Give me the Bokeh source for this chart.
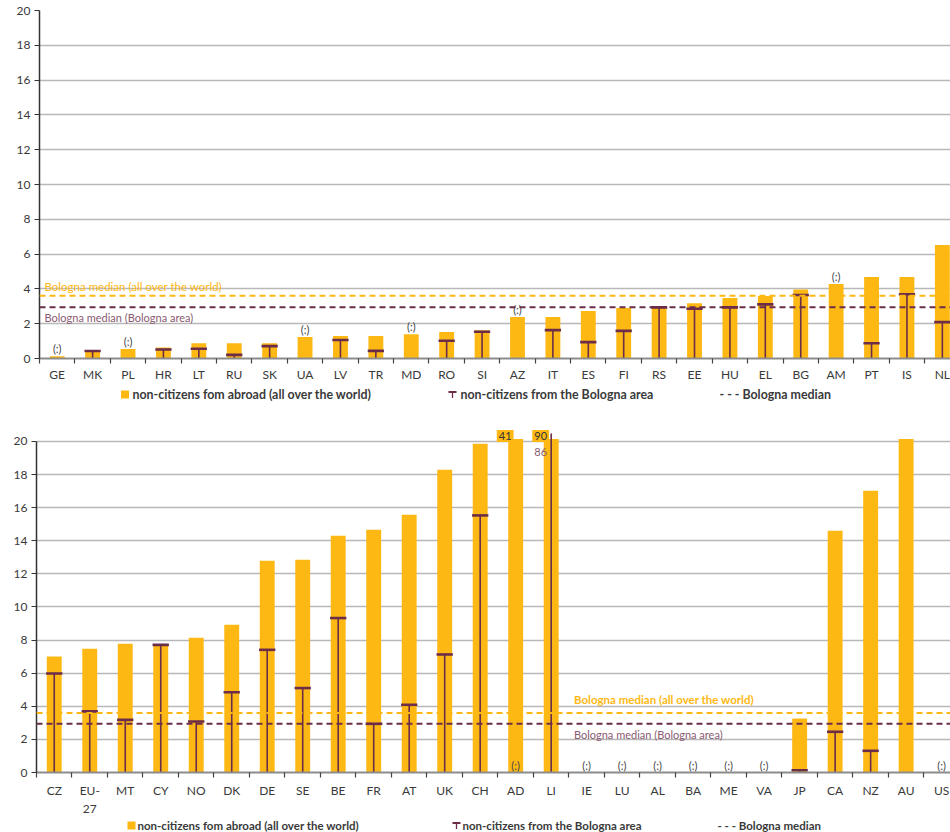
from bokeh.plotting import figure
from bokeh.models import FixedTicker, Span, Label
from bokeh.layouts import column
from bokeh.embed import file_html
from bokeh.resources import INLINE
from bokeh.core.properties import value

# ---------------- data ----------------
top_countries = ["GE", "MK", "PL", "HR", "LT", "RU", "SK", "UA", "LV", "TR", "MD", "RO", "SI",
                 "AZ", "IT", "ES", "FI", "RS", "EE", "HU", "EL", "BG", "AM", "PT", "IS", "NL"]
top_world = [0.13, 0.45, 0.54, 0.63, 0.88, 0.88, 0.88, 1.23, 1.29, 1.29, 1.40, 1.52, 1.63,
             2.38, 2.38, 2.73, 2.90, 2.94, 3.17, 3.48, 3.59, 3.96, 4.28, 4.69, 4.69, 6.53]
top_bologna = [None, 0.43, None, 0.52, 0.56, 0.21, 0.71, None, 1.06, 0.44, None, 1.02, 1.54,
               None, 1.63, 0.94, 1.59, 2.94, 2.86, 2.94, 3.11, 3.65, None, 0.88, 3.69, 2.09]
top_na = ["GE", "PL", "UA", "MD", "AZ", "AM"]

bot_countries = ["CZ", "EU-\n27", "MT", "CY", "NO", "DK", "DE", "SE", "BE", "FR", "AT", "UK", "CH",
                 "AD", "LI", "IE", "LU", "AL", "BA", "ME", "VA", "JP", "CA", "NZ", "AU", "US"]
bot_world = [7.00, 7.47, 7.77, 7.75, 8.14, 8.92, 12.79, 12.85, 14.30, 14.66, 15.57, 18.29, 19.86,
             41, 90, None, None, None, None, None, None, 3.26, 14.60, 17.02, 20.2, None]
bot_bologna = [5.98, 3.69, 3.18, 7.71, 3.08, 4.85, 7.41, 5.10, 9.33, 2.94, 4.09, 7.13, 15.53,
               None, 86, None, None, None, None, None, None, 0.14, 2.46, 1.31, None, None]
bot_na = ["AD", "IE", "LU", "AL", "BA", "ME", "VA", "US"]
bot_offscale = {"AD": ("41", None), "LI": ("90", "86")}

median_world = 3.6
median_bologna = 2.94
y_ticks = [0, 2, 4, 6, 8, 10, 12, 14, 16, 18, 20]

legend_world = "non-citizens fom abroad (all over the world)"
legend_bologna = "non-citizens from the Bologna area"
legend_median = "- - - Bologna median"
label_world = "Bologna median (all over the world)"
label_bologna = "Bologna median (Bologna area)"

# ---------------- style ----------------
ORANGE = "#FDB813"
PURPLE = "#6B2D48"
PURPLE_TXT = "#8A5A72"
GRID = "#B8B8B8"
TXT = "#3A3A3A"
FONT = "Lato"
BAR_W = 0.42
W = 950


def make_fig(cats, world, bolo, na, height, left, top, bottom, y_end, x_end, bar_cap, line_cap,
             na_at_zero, bold_world_label, wlab_x, wlab_off, blab_off, lab_size, standoff):
    n = len(cats)
    xs = list(range(n))
    p = figure(width=W, height=height, output_backend="svg", toolbar_location=None,
               x_range=(-0.5, x_end), y_range=(0, y_end),
               min_border_left=left, min_border_right=0, min_border_top=top,
               min_border_bottom=bottom, outline_line_color=None, frame_align=False)
    p.background_fill_color = "white"
    p.border_fill_color = "white"

    # bars (off-scale values are cut at the top of the scale)
    bx = [x for x, v in zip(xs, world) if v is not None]
    bv = [min(v, bar_cap) for v in world if v is not None]
    p.vbar(x=bx, top=bv, width=BAR_W, bottom=0, fill_color=ORANGE, line_color=None)

    # T markers
    tx = [x for x, v in zip(xs, bolo) if v is not None]
    tv = [v for v in bolo if v is not None]
    p.segment(x0=tx, y0=[0] * len(tx), x1=tx, y1=[min(v, line_cap) for v in tv],
              line_color=PURPLE, line_width=1.6)
    cx = [x for x, v in zip(tx, tv) if v <= bar_cap]
    cv = [v for v in tv if v <= bar_cap]
    p.segment(x0=[x - BAR_W / 2 - 0.02 for x in cx], y0=cv,
              x1=[x + BAR_W / 2 + 0.02 for x in cx], y1=cv, line_color=PURPLE, line_width=2.6)

    # medians
    p.add_layout(Span(location=median_world, dimension="width", line_color=ORANGE,
                      line_width=2, line_dash="6 4"))
    p.add_layout(Span(location=median_bologna, dimension="width", line_color=PURPLE,
                      line_width=2, line_dash="6 4"))
    p.add_layout(Label(x=wlab_x, y=median_world, text=label_world, x_offset=5, y_offset=wlab_off,
                       text_baseline="bottom", text_align="left", text_color=ORANGE,
                       text_font=FONT, text_font_size=lab_size,
                       text_font_style="bold" if bold_world_label else "normal"))
    p.add_layout(Label(x=wlab_x, y=median_bologna, text=label_bologna, x_offset=5, y_offset=blab_off,
                       text_baseline="top", text_align="left", text_color=PURPLE_TXT,
                       text_font=FONT, text_font_size="11px"))

    # (:) notes
    nx = [xs[cats.index(c)] for c in na]
    if na_at_zero:
        ny = [0] * len(nx)
    else:
        ny = [world[cats.index(c)] for c in na]
    p.text(x=nx, y=ny, text=["(:)"] * len(nx), text_align="center", text_baseline="bottom",
           y_offset=-1, text_font=value(FONT), text_font_size="11px", text_color="#444444")

    # axes
    p.xgrid.grid_line_color = None
    p.ygrid.grid_line_color = GRID
    p.ygrid.grid_line_width = 1.5
    p.ygrid.ticker = FixedTicker(ticks=y_ticks)

    p.yaxis.ticker = FixedTicker(ticks=y_ticks, minor_ticks=[])
    p.yaxis.bounds = (0, 20)
    p.yaxis.axis_line_color = "#333333"
    p.yaxis.axis_line_width = 1.5
    p.yaxis.major_tick_out = 5
    p.yaxis.major_tick_in = 0
    p.yaxis.major_tick_line_color = "#333333"
    p.yaxis.minor_tick_line_color = None
    p.yaxis.major_label_standoff = 4
    p.yaxis.major_label_text_font = FONT
    p.yaxis.major_label_text_font_size = "12px"
    p.yaxis.major_label_text_color = TXT

    p.xaxis.ticker = FixedTicker(ticks=xs, minor_ticks=[x - 0.5 for x in range(n + 1)])
    p.xaxis.major_label_overrides = {x: c for x, c in zip(xs, cats)}
    p.xaxis.axis_line_color = "#8C8C8C"
    p.xaxis.axis_line_width = 2
    p.xaxis.major_tick_line_color = None
    p.xaxis.major_tick_out = 0
    p.xaxis.major_tick_in = 0
    p.xaxis.minor_tick_out = 5
    p.xaxis.minor_tick_in = 0
    p.xaxis.minor_tick_line_color = "#444444"
    p.xaxis.minor_tick_line_width = 1.2
    p.xaxis.major_label_standoff = standoff
    p.xaxis.major_label_text_font = FONT
    p.xaxis.major_label_text_font_size = "12px"
    p.xaxis.major_label_text_color = TXT
    return p, xs


def make_legend(height, sq, t1, tx, t2, mx, size, sq_size):
    lg = figure(width=W, height=height, output_backend="svg", toolbar_location=None,
                x_range=(0, W), y_range=(0, height), min_border=0, outline_line_color=None,
                x_axis_type=None, y_axis_type=None, frame_align=False)
    lg.grid.grid_line_color = None
    yc = height / 2
    lg.rect(x=[sq], y=[yc], width=sq_size, height=sq_size, fill_color=ORANGE, line_color=None)
    lg.segment(x0=[tx], y0=[yc - 3.5], x1=[tx], y1=[yc + 2.5], line_color=PURPLE, line_width=1.3)
    lg.segment(x0=[tx - 4], y0=[yc + 2.5], x1=[tx + 4], y1=[yc + 2.5], line_color=PURPLE, line_width=2)
    lg.text(x=[t1, t2, mx], y=[yc] * 3, text=[legend_world, legend_bologna, legend_median],
            text_baseline="middle", text_align="left", text_font=value(FONT),
            text_font_style="bold", text_font_size=size, text_color=TXT)
    return lg


p1, _ = make_fig(top_countries, top_world, top_bologna, top_na,
                 height=384, left=39, top=10, bottom=26, y_end=20, x_end=25.23,
                 bar_cap=20, line_cap=20, na_at_zero=False, bold_world_label=False,
                 wlab_x=-0.5, wlab_off=3, blab_off=-4, lab_size="11.5px", standoff=3)
leg1 = make_legend(20, 124.5, 132, 452, 460, 719, "12.4px", 8)

p2, xs2 = make_fig(bot_countries, bot_world, bot_bologna, bot_na,
                   height=414, left=36, top=22, bottom=46, y_end=20.9, x_end=25.25,
                   bar_cap=20.15, line_cap=20.48, na_at_zero=True, bold_world_label=True,
                   wlab_x=14.5, wlab_off=7, blab_off=-4, lab_size="11.5px", standoff=5)
leg2 = make_legend(14, 131, 137, 456, 462, 717, "11.5px", 8)

# off-scale values written above the cut bars
for c, (w, b) in bot_offscale.items():
    xi = xs2[bot_countries.index(c)]
    p2.add_layout(Label(x=xi, y=20.33, text=w, x_offset=-10.5, text_align="center",
                        text_baseline="middle", text_color="#333333", text_font=FONT,
                        text_font_size="11px", background_fill_color=ORANGE, padding=2))
    if b is not None:
        p2.add_layout(Label(x=xi, y=20.33, text=b, x_offset=-10.5, y_offset=-16.5,
                            text_align="center", text_baseline="middle", text_color=PURPLE_TXT,
                            text_font=FONT, text_font_size="11px"))

layout = column(p1, leg1, p2, leg2, spacing=0)
open("out.html", "w").write(file_html(layout, INLINE))
